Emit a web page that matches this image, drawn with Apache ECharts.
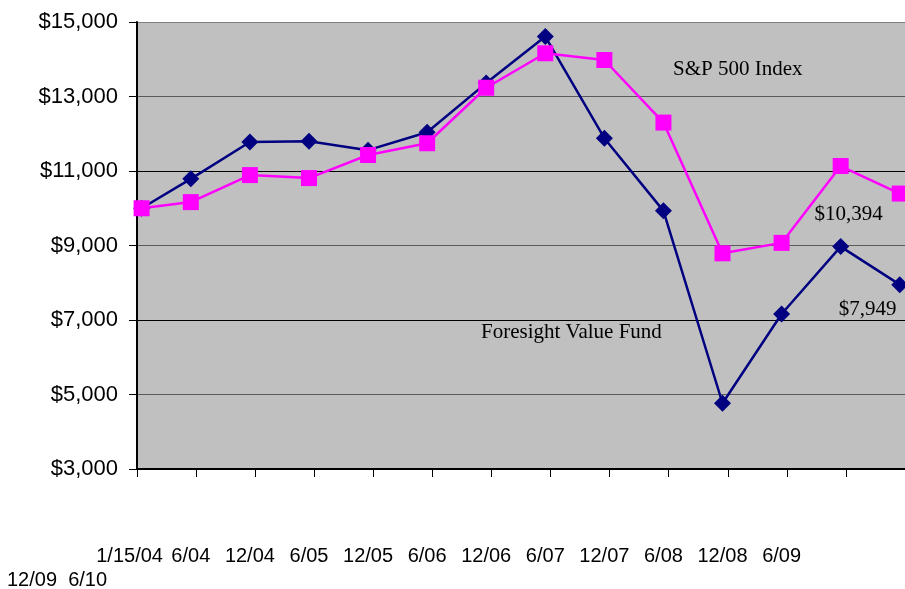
<!DOCTYPE html>
<html>
<head>
<meta charset="utf-8">
<title>Foresight Value Fund vs S&amp;P 500 Index</title>
<script src="https://cdn.jsdelivr.net/npm/echarts@6/dist/echarts.min.js"></script>
<style>
  html, body { margin: 0; padding: 0; background: #fff; }
  #chart { width: 905px; height: 589px; }
</style>
</head>
<body>
<div id="chart"></div>
<script>
// 日期 (每个点)
const dates = ['2004-01-15', '2004-06-15', '2004-12-15', '2005-06-15', '2005-12-15', '2006-06-15', '2006-12-15',
  '2007-06-15', '2007-12-15', '2008-06-15', '2008-12-15', '2009-06-15', '2009-12-15', '2010-06-15']
// 刻度标签
const tickLabels = ['1/15/04', '6/04', '12/04', '6/05', '12/05', '6/06', '12/06',
  '6/07', '12/07', '6/08', '12/08', '6/09', '12/09', '6/10']
// 基金
const fundValues = [10000, 10790, 11780, 11800, 11560, 12040, 13360, 14610, 11880, 9930, 4765, 7160, 8970, 7949]
// S&P 500
const spValues = [10000, 10165, 10890, 10810, 11430, 11745, 13235, 14160, 13980, 12300, 8790, 9070, 11134, 10394]

// 月份 (从 2004-01-01 起)
const toMonths = (d) => {
  const [y, m, day] = d.split('-').map(Number)
  return (y - 2004) * 12 + (m - 1) + (day - 1) / 30
}
const xs = dates.map(toMonths)

const endLabel = (offset) => ({
  show: true,
  position: 'inside',
  offset: offset,
  fontFamily: 'Liberation Serif',
  fontSize: 21,
  color: '#000',
  formatter: (p) => '$' + p.value[1].toLocaleString('en-US')
})

const fundData = fundValues.map((v, i) => i === fundValues.length - 1
  ? { value: [xs[i], v], label: endLabel([-32, 25]) }
  : [xs[i], v])
const spData = spValues.map((v, i) => i === spValues.length - 1
  ? { value: [xs[i], v], label: endLabel([-51, 21]) }
  : [xs[i], v])

// 第一行标签 (前 12 个), 其余换行
const firstRow = 12
const labelFor = (v) => {
  const i = xs.findIndex((x) => Math.abs(x - v) < 0.01)
  return i >= 0 && i < firstRow ? tickLabels[i] : ''
}

const labelFont = { fontFamily: 'Liberation Sans', fontSize: 20, color: '#000' }

const chart = echarts.init(document.getElementById('chart'))

const option = {
  animation: false,
  backgroundColor: '#fff',
  grid: {
    left: 137,
    top: 22,
    right: -2,
    bottom: 120,
    show: true,
    backgroundColor: '#C0C0C0',
    borderWidth: 0
  },
  xAxis: [
    {
      type: 'value',
      min: 0,
      max: 78,
      interval: 6,
      axisLine: { show: true, onZero: false, lineStyle: { color: '#000', width: 2 } },
      axisTick: { show: true, length: 8, lineStyle: { color: '#000', width: 1 } },
      splitLine: { show: false },
      axisLabel: {
        customValues: xs.slice(1, firstRow),
        formatter: labelFor,
        margin: 77,
        ...labelFont
      }
    },
    {
      // 第一个标签 (1/15/04), 单独一根轴避免重叠隐藏
      type: 'value',
      position: 'bottom',
      min: 0,
      max: 78,
      axisLine: { show: false },
      axisTick: { show: false },
      splitLine: { show: false },
      axisLabel: {
        customValues: [xs[0]],
        showMinLabel: true,
        formatter: (v) => '{a|' + labelFor(v) + '}',
        margin: 77,
        rich: { a: { padding: [0, 24, 0, 0], ...labelFont } },
        ...labelFont
      }
    }
  ],
  yAxis: {
    type: 'value',
    min: 3000,
    max: 15000,
    interval: 2000,
    axisLine: { show: true, lineStyle: { color: '#000', width: 2 } },
    axisTick: { show: true, length: 8, lineStyle: { color: '#000', width: 1 } },
    splitLine: {
      show: true,
      lineStyle: { color: ['#000', '#5a5a5a', '#000', '#5a5a5a', '#000', '#5a5a5a', '#808080'], width: 1 }
    },
    axisLabel: {
      margin: 19,
      fontFamily: 'Liberation Sans',
      fontSize: 22,
      color: '#000',
      formatter: (v) => '$' + v.toLocaleString('en-US')
    }
  },
  graphic: [
    {
      type: 'text',
      left: 673,
      top: 59,
      style: { text: 'S&P 500 Index', fontFamily: 'Liberation Serif', fontSize: 21, fill: '#000' }
    },
    {
      type: 'text',
      left: 481,
      top: 322,
      style: { text: 'Foresight Value Fund', fontFamily: 'Liberation Serif', fontSize: 21, fill: '#000' }
    },
    {
      // 换行的刻度标签
      type: 'text',
      left: 7,
      top: 570,
      style: { text: tickLabels.slice(firstRow).join('  '), fontFamily: 'Liberation Sans', fontSize: 20, fill: '#000' }
    }
  ],
  series: [
    {
      name: 'Foresight Value Fund',
      type: 'line',
      xAxisIndex: 0,
      data: fundData,
      symbol: 'diamond',
      symbolSize: 17,
      lineStyle: { color: '#000080', width: 2.5 },
      itemStyle: { color: '#000080' }
    },
    {
      name: 'S&P 500 Index',
      type: 'line',
      xAxisIndex: 0,
      data: spData,
      symbol: 'rect',
      symbolSize: 16,
      lineStyle: { color: '#FF00FF', width: 2.5 },
      itemStyle: { color: '#FF00FF' }
    }
  ]
}

chart.setOption(option)
</script>
</body>
</html>
